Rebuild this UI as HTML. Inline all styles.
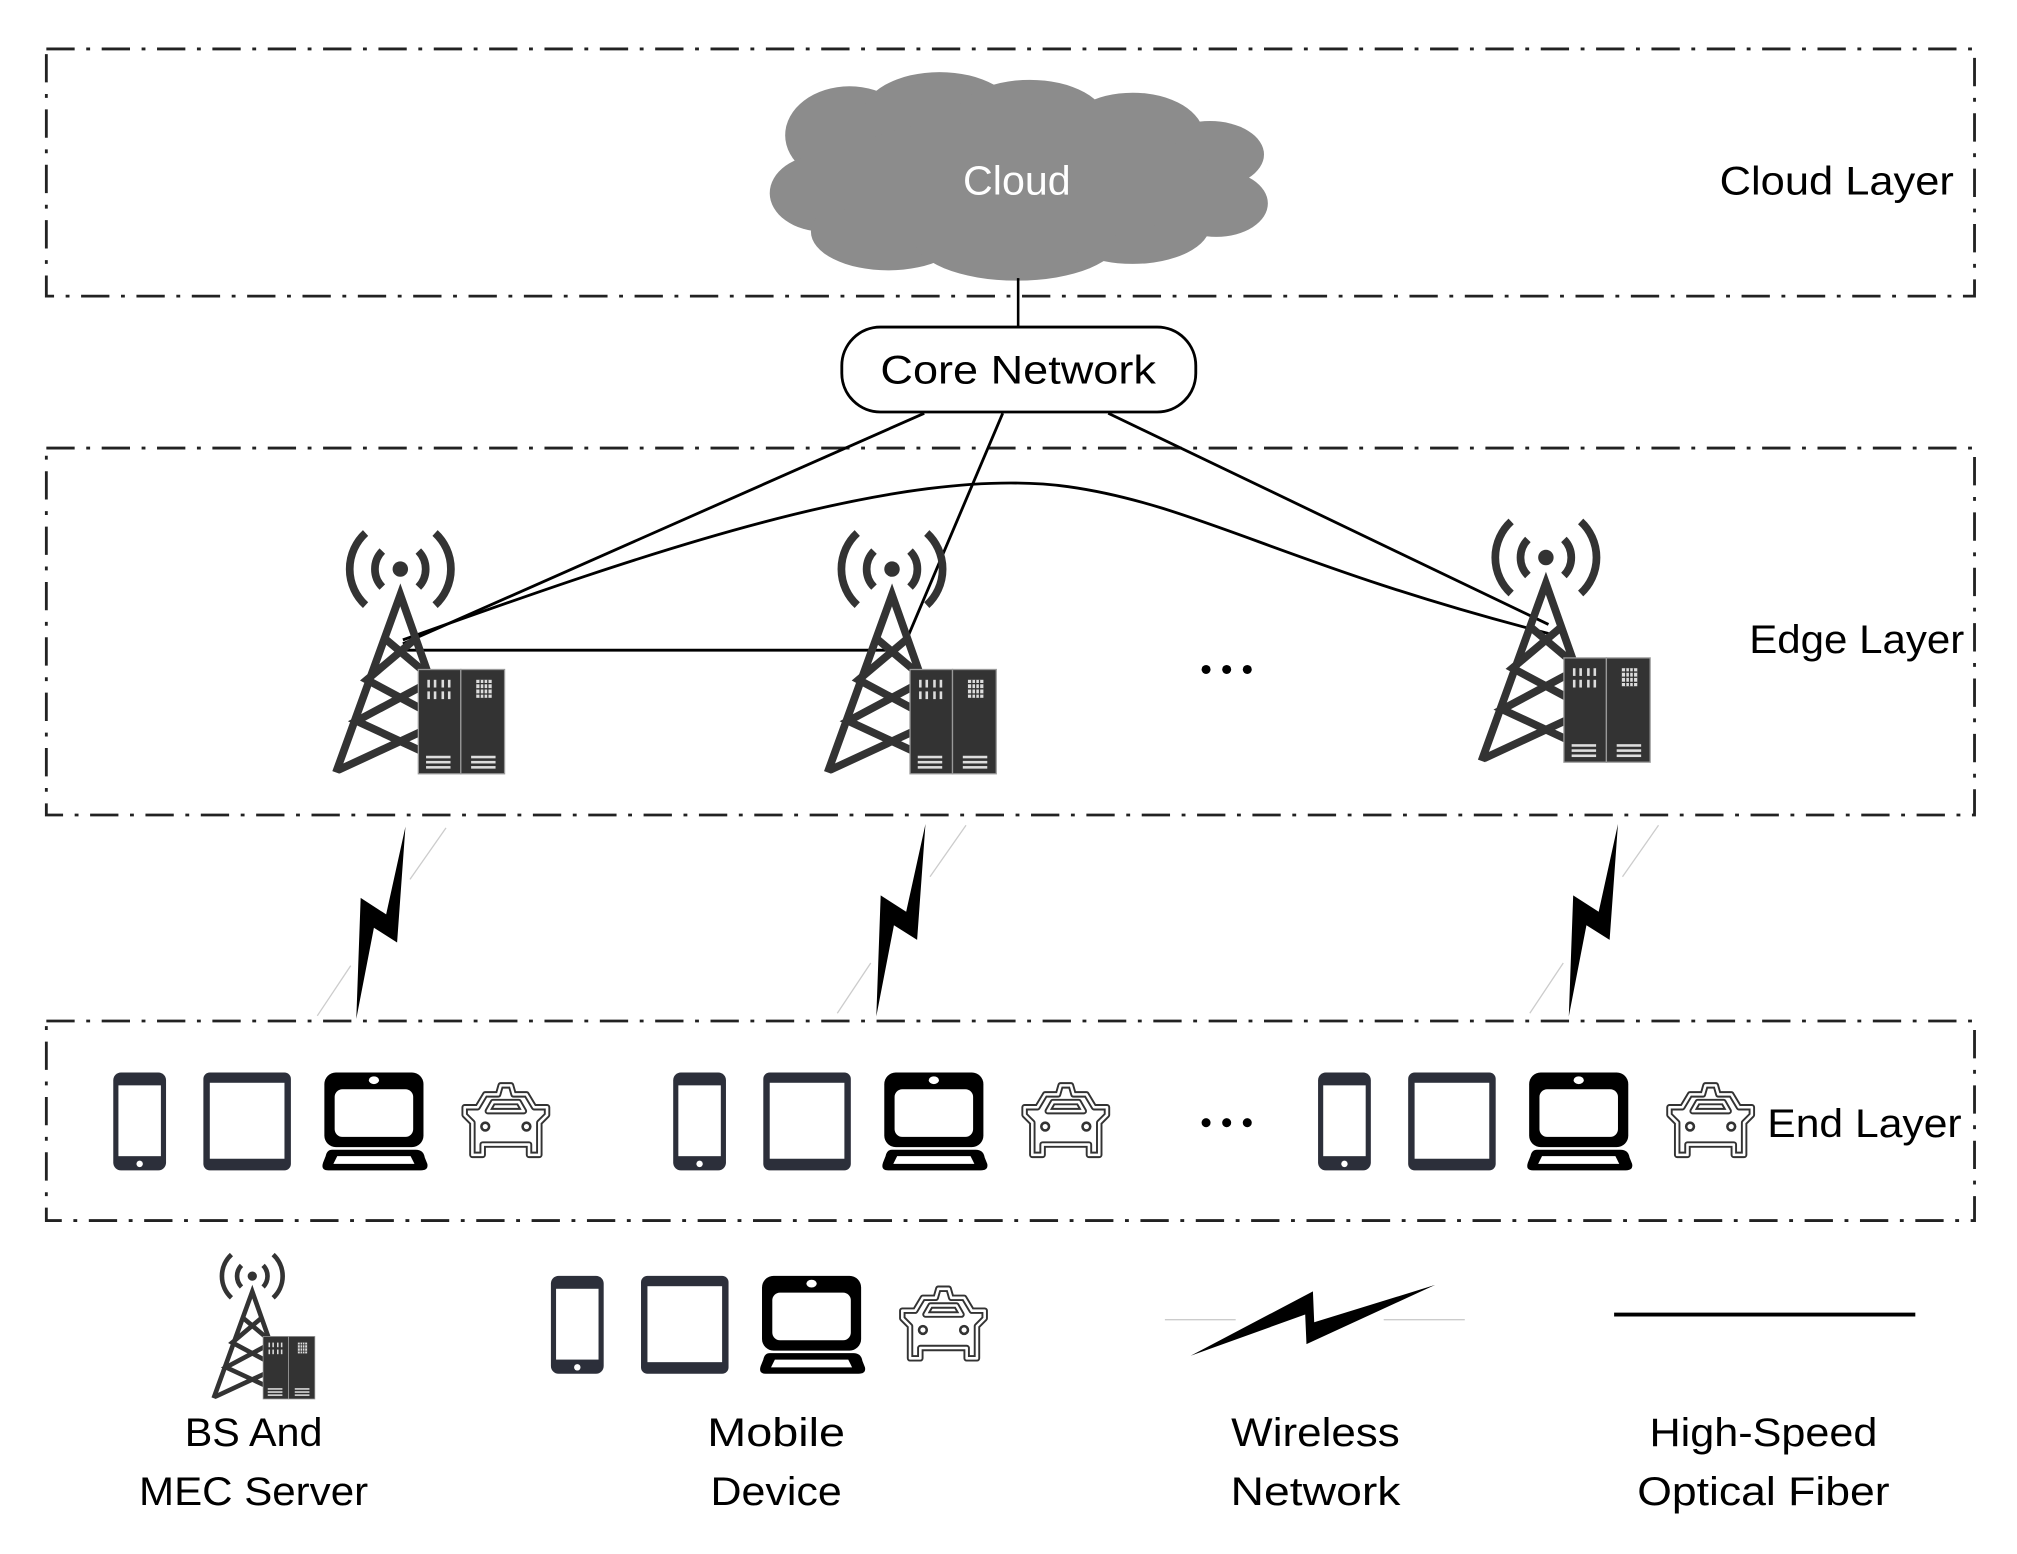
<!DOCTYPE html>
<html><head><meta charset="utf-8"><style>html,body{margin:0;padding:0;background:#fff}svg{display:block}</style></head>
<body>
<svg width="2017" height="1554" viewBox="0 0 1567 1207" preserveAspectRatio="none" xmlns="http://www.w3.org/2000/svg" font-family="'Liberation Sans', sans-serif">
<defs>
<g id="tower">
  <circle cx="0" cy="-18" r="6" fill="#333"/>
  <g fill="none" stroke="#333" stroke-width="6">
    <path d="M-14,-32 A20,20 0 0 0 -14,-4"/><path d="M14,-32 A20,20 0 0 1 14,-4"/>
    <path d="M-27,-46 A38,38 0 0 0 -27,10"/><path d="M27,-46 A38,38 0 0 1 27,10"/>
  </g>
  <g fill="none" stroke="#333" stroke-width="6" stroke-linejoin="miter">
    <path d="M-50,140 L0,2 L48,138"/>
    <path d="M-12,36 L26,68 L-34,100 L48,138"/>
    <path d="M12,36 L-26,68 L34,100 L-48,138"/>
  </g>
  <g>
    <rect x="14" y="60" width="33" height="81" fill="#333" stroke="#999" stroke-width="1"/>
    <rect x="47" y="60" width="34" height="81" fill="#333" stroke="#999" stroke-width="1"/>
    <g fill="#ddd">
      <rect x="21" y="68" width="2" height="6"/><rect x="26" y="68" width="2" height="6"/><rect x="32" y="68" width="2" height="6"/><rect x="37" y="68" width="2" height="6"/>
      <rect x="21" y="77" width="2" height="6"/><rect x="26" y="77" width="2" height="6"/><rect x="32" y="77" width="2" height="6"/><rect x="37" y="77" width="2" height="6"/>
      <rect x="59" y="68" width="12" height="14"/>
      <rect x="20" y="127" width="19" height="2"/><rect x="20" y="131" width="19" height="2"/><rect x="20" y="135" width="19" height="2"/>
      <rect x="55" y="127" width="19" height="2"/><rect x="55" y="131" width="19" height="2"/><rect x="55" y="135" width="19" height="2"/>
    </g>
    <g stroke="#333" stroke-width="1"><path d="M62,68 v14 M65,68 v14 M68,68 v14 M59,71 h12 M59,75 h12 M59,79 h12"/></g>
  </g>
</g>
<g id="devices">
  <rect x="88" y="833" width="41" height="76" rx="6" fill="#2c2f3a"/>
  <rect x="92" y="843" width="33" height="55" fill="#fff"/>
  <circle cx="108.5" cy="904" r="2.5" fill="#fff"/>
  <rect x="158" y="833" width="68" height="76" rx="5" fill="#2c2f3a"/>
  <rect x="163" y="841" width="58" height="59" fill="#fff"/>
  <rect x="252" y="833" width="77" height="58" rx="9" fill="#000"/>
  <rect x="260" y="846" width="61" height="37" rx="6" fill="#fff"/>
  <ellipse cx="290.5" cy="839" rx="4" ry="3" fill="#fff"/>
  <path d="M258,893 L323,893 Q329,893 330,899 L332,904 Q333,909 327,909 L255,909 Q249,909 251,903 L253,898 Q254,893 258,893 Z" fill="#000"/>
  <path d="M262,898 L319,898 L322,904 L259,904 Z" fill="#fff"/>
  <g fill="none" stroke="#333" stroke-width="5" stroke-linejoin="round">
    <path d="M367,897 L367,872 L361,866 L361,860 L371,860 L377,850 L387,850 L389,843 L397,843 L399,850 L409,850 L415,860 L425,860 L425,866 L419,872 L419,897 L411,897 L411,889 L375,889 L375,897 Z"/>
    <path d="M379,863 L383,856 L403,856 L407,863 Z"/>
  </g>
  <g fill="none" stroke="#fff" stroke-width="2" stroke-linejoin="round">
    <path d="M367,897 L367,872 L361,866 L361,860 L371,860 L377,850 L387,850 L389,843 L397,843 L399,850 L409,850 L415,860 L425,860 L425,866 L419,872 L419,897 L411,897 L411,889 L375,889 L375,897 Z"/>
    <path d="M379,863 L383,856 L403,856 L407,863 Z"/>
  </g>
  <circle cx="377" cy="875" r="3" fill="none" stroke="#333" stroke-width="2"/>
  <circle cx="409" cy="875" r="3" fill="none" stroke="#333" stroke-width="2"/>
</g>
<g id="bolt">
  <polygon points="0,0 -6.5,90 -24.5,78.6 -38.2,149.4 -34.8,55.4 -15,68.2" fill="#000"/>
  <line x1="31.5" y1="1" x2="3.5" y2="41" stroke="#ccc" stroke-width="1"/>
  <line x1="-42.5" y1="108" x2="-68.5" y2="147" stroke="#ccc" stroke-width="1"/>
</g>
<g id="dots">
  <circle cx="-16" cy="0" r="3.5" fill="#000"/><circle cx="0" cy="0" r="3.5" fill="#000"/><circle cx="16" cy="0" r="3.5" fill="#000"/>
</g>
</defs>

<g fill="none" stroke="#222" stroke-width="2.2" stroke-dasharray="22,9,3,9">
  <rect x="36" y="38" width="1498" height="192"/>
  <rect x="36" y="348" width="1498" height="285"/>
  <rect x="36" y="793" width="1498" height="155"/>
</g>

<g fill="#8c8c8c">
  <ellipse cx="660" cy="105" rx="50" ry="38"/>
  <ellipse cx="730" cy="90" rx="60" ry="34"/>
  <ellipse cx="800" cy="95" rx="60" ry="33"/>
  <ellipse cx="880" cy="105" rx="55" ry="33"/>
  <ellipse cx="940" cy="120" rx="42" ry="26"/>
  <ellipse cx="945" cy="158" rx="40" ry="26"/>
  <ellipse cx="640" cy="150" rx="42" ry="30"/>
  <ellipse cx="690" cy="180" rx="60" ry="30"/>
  <ellipse cx="790" cy="185" rx="80" ry="33"/>
  <ellipse cx="880" cy="175" rx="60" ry="30"/>
  <ellipse cx="790" cy="140" rx="150" ry="50"/>
</g>
<text x="790" y="151" font-size="32" fill="#fff" text-anchor="middle">Cloud</text>
<line x1="791" y1="216" x2="791" y2="254" stroke="#000" stroke-width="2"/>
<rect x="654" y="254" width="275" height="66" rx="30" fill="#fff" stroke="#000" stroke-width="2.2"/>
<text x="791" y="298" font-size="31" text-anchor="middle" textLength="214" lengthAdjust="spacingAndGlyphs">Core Network</text>

<g fill="none" stroke="#000" stroke-width="2.2">
  <line x1="718" y1="321" x2="313" y2="500"/>
  <line x1="779" y1="321" x2="703" y2="500"/>
  <line x1="861" y1="321" x2="1203" y2="485"/>
  <path d="M313,497 C500,430 700,360 830,378 C930,392 1000,440 1203,492"/>
  <line x1="313" y1="505" x2="697" y2="505"/>
</g>

<use href="#tower" transform="translate(311,460)"/>
<use href="#tower" transform="translate(693,460)"/>
<use href="#tower" transform="translate(1201,451)"/>

<use href="#dots" transform="translate(953,520)"/>
<use href="#dots" transform="translate(953,872)"/>

<use href="#bolt" transform="translate(315,642)"/>
<use href="#bolt" transform="translate(719,640)"/>
<use href="#bolt" transform="translate(1257,640)"/>

<use href="#devices"/>
<use href="#devices" transform="translate(435,0)"/>
<use href="#devices" transform="translate(936,0)"/>

<text x="1518" y="151" font-size="31" text-anchor="end" textLength="182" lengthAdjust="spacingAndGlyphs">Cloud Layer</text>
<text x="1526" y="507" font-size="31" text-anchor="end" textLength="167" lengthAdjust="spacingAndGlyphs">Edge Layer</text>
<text x="1524" y="883" font-size="31" text-anchor="end" textLength="151" lengthAdjust="spacingAndGlyphs">End Layer</text>

<use href="#tower" transform="translate(196,1002) scale(0.6)"/>
<use href="#devices" transform="translate(340,158)"/>
<polygon points="925,1053 1020,1003 1021,1027 1115,998 1015,1044 1014,1021" fill="#000"/>
<line x1="905" y1="1025" x2="960" y2="1025" stroke="#ccc" stroke-width="1"/>
<line x1="1075" y1="1025" x2="1138" y2="1025" stroke="#ccc" stroke-width="1"/>
<line x1="1254" y1="1021" x2="1488" y2="1021" stroke="#000" stroke-width="3"/>

<g font-size="31" text-anchor="middle">
  <text x="197" y="1123" textLength="107" lengthAdjust="spacingAndGlyphs">BS And</text>
  <text x="197" y="1169" textLength="178" lengthAdjust="spacingAndGlyphs">MEC Server</text>
  <text x="603" y="1123" textLength="107" lengthAdjust="spacingAndGlyphs">Mobile</text>
  <text x="603" y="1169" textLength="102" lengthAdjust="spacingAndGlyphs">Device</text>
  <text x="1022" y="1123" textLength="131" lengthAdjust="spacingAndGlyphs">Wireless</text>
  <text x="1022" y="1169" textLength="132" lengthAdjust="spacingAndGlyphs">Network</text>
  <text x="1370" y="1123" textLength="177" lengthAdjust="spacingAndGlyphs">High-Speed</text>
  <text x="1370" y="1169" textLength="196" lengthAdjust="spacingAndGlyphs">Optical Fiber</text>
</g>
</svg>
</body></html>
